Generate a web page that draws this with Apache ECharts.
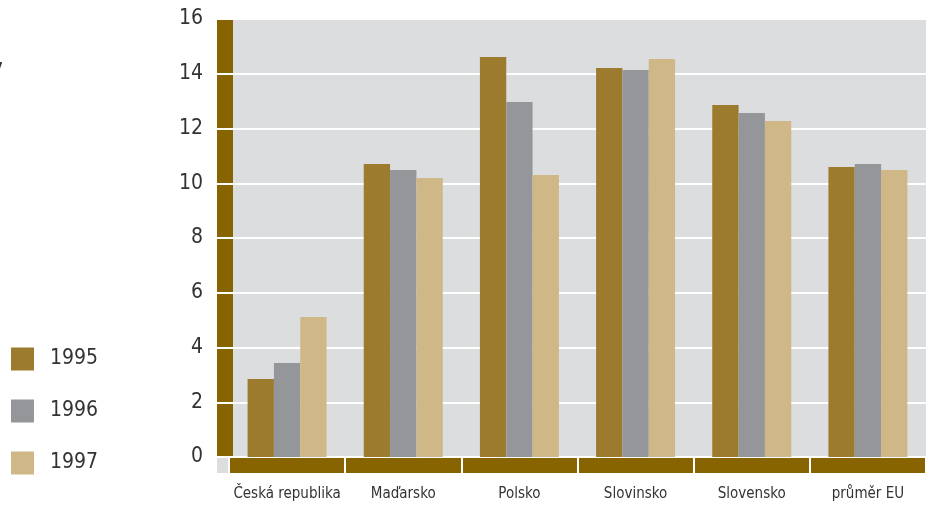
<!DOCTYPE html>
<html>
<head>
<meta charset="utf-8">
<script src="https://cdn.jsdelivr.net/npm/echarts@6/dist/echarts.min.js"></script>
<style>
html,body{margin:0;padding:0;background:#fff;}
#chart{width:926px;height:507px;}
</style>
</head>
<body>
<div id="chart"></div>
<script>
const categories = ['Česká republika', 'Maďarsko', 'Polsko', 'Slovinsko', 'Slovensko', 'průměr EU'];
const seriesNames = ['1995', '1996', '1997'];
const values1995 = [2.85, 10.70, 14.61, 14.21, 12.86, 10.59];
const values1996 = [3.43, 10.48, 12.97, 14.14, 12.57, 10.70];
const values1997 = [5.11, 10.19, 10.30, 14.54, 12.27, 10.48];
const yTicks = [0, 2, 4, 6, 8, 10, 12, 14, 16];

const FONT = "'Liberation Sans Narrow', 'DejaVu Sans Condensed', 'Roboto Condensed', sans-serif";
const BROWN = '#876400';
const GRAY = '#dcdddf';
const colors = ['#9c7b2e', '#95969a', '#cfb787'];
const seriesData = [values1995, values1996, values1997];

const chart = echarts.init(document.getElementById('chart'), null, {renderer: 'canvas'});
const yMin = yTicks[0], yMax = yTicks[yTicks.length - 1], yInt = yTicks[1] - yTicks[0];

const option = {
  animation: false,
  backgroundColor: '#ffffff',
  graphic: [{
    type: 'text', x: -9, y: 61,
    style: {text: '7', fontSize: 22, fontFamily: FONT, fill: '#333'}
  }],
  legend: {
    orient: 'vertical', left: 11, top: 346,
    itemWidth: 23, itemHeight: 23, itemGap: 26,
    icon: 'rect',
    padding: 0,
    data: seriesNames,
    textStyle: {fontSize: 21, fontFamily: FONT, color: '#333', lineHeight: 23, padding: [3, 0, 0, 11]}
  },
  grid: [
    {left: 217, right: -7, top: 19, bottom: 34, show: true, backgroundColor: GRAY, borderWidth: 0},
    {left: 229, right: -7, top: 19, bottom: 50, show: false},
    {left: 217, width: 16, top: 19, bottom: 50, show: true, backgroundColor: BROWN, borderWidth: 0},
    {left: 229, right: -7, top: 457, height: 16, show: true, backgroundColor: BROWN, borderWidth: 0}
  ],
  xAxis: [
    {gridIndex: 0, type: 'value', show: false},
    {gridIndex: 1, type: 'category', data: categories, show: false},
    {gridIndex: 2, type: 'value', show: false},
    {gridIndex: 3, type: 'category', data: categories, position: 'bottom',
      axisLine: {show: false}, axisTick: {show: false, interval: 0},
      splitLine: {show: true, interval: 0, lineStyle: {color: '#ffffff', width: 2}},
      axisLabel: {interval: 0, fontSize: 15, fontFamily: FONT, color: '#333', margin: 14}}
  ],
  yAxis: [
    {gridIndex: 0, type: 'value', show: false},
    {gridIndex: 1, type: 'value', min: yMin, max: yMax, interval: yInt,
      axisLine: {show: false}, axisTick: {show: false}, axisLabel: {show: false},
      splitLine: {show: true, lineStyle: {color: '#ffffff', width: 2}}},
    {gridIndex: 2, type: 'value', min: yMin, max: yMax, interval: yInt,
      axisLine: {show: false}, axisTick: {show: false},
      axisLabel: {fontSize: 21, fontFamily: FONT, color: '#333', margin: 14},
      splitLine: {show: true, lineStyle: {color: '#ffffff', width: 2}}},
    {gridIndex: 3, type: 'value', show: false}
  ],
  series: seriesNames.map((name, i) => ({
    name: name,
    type: 'bar',
    xAxisIndex: 1,
    yAxisIndex: 1,
    data: seriesData[i],
    barGap: '0%',
    barCategoryGap: '32%',
    itemStyle: {color: colors[i]}
  }))
};
chart.setOption(option);
</script>
</body>
</html>
